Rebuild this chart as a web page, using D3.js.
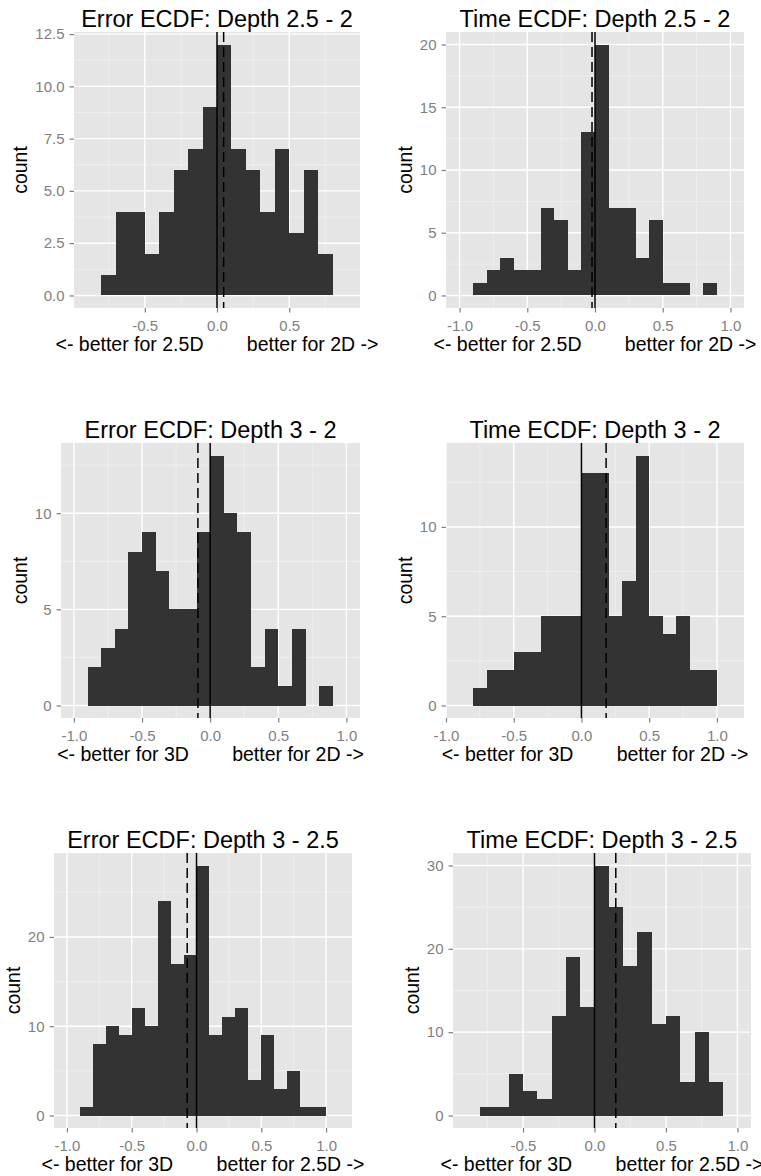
<!DOCTYPE html>
<html>
<head>
  <meta charset="utf-8">
  <title>ECDF differences by depth</title>
  <script src="https://cdn.jsdelivr.net/npm/d3@7"></script>
  <style>
    body { margin: 0; background: #fff; }
    text { font-family: "Liberation Sans", Arial, Helvetica, sans-serif; }
  </style>
</head>
<body>
<div id="chart"></div>
<script>
// histogram data, bin width 0.1
var binWidth = 0.1;
var panelTitles = ["Error ECDF: Depth 2.5 - 2", "Time ECDF: Depth 2.5 - 2",
                   "Error ECDF: Depth 3 - 2", "Time ECDF: Depth 3 - 2",
                   "Error ECDF: Depth 3 - 2.5", "Time ECDF: Depth 3 - 2.5"];
var xTitles = ["<- better for 2.5D        better for 2D ->", "<- better for 2.5D        better for 2D ->",
               "<- better for 3D        better for 2D ->", "<- better for 3D        better for 2D ->",
               "<- better for 3D        better for 2.5D ->", "<- better for 3D        better for 2.5D ->"];
var firstBin = [-0.8, -0.9, -0.9, -0.8, -0.9, -0.8];
var errCounts25v2  = [1, 4, 4, 2, 4, 6, 7, 9, 12, 7, 6, 4, 7, 3, 6, 2];
var timeCounts25v2 = [1, 2, 3, 2, 2, 7, 6, 2, 13, 20, 7, 7, 3, 6, 1, 1, 0, 1];
var errCounts3v2   = [2, 3, 4, 8, 9, 7, 5, 5, 9, 13, 10, 9, 2, 4, 1, 4, 0, 1];
var timeCounts3v2  = [1, 2, 2, 3, 3, 5, 5, 5, 13, 13, 5, 7, 14, 5, 4, 5, 2, 2];
var errCounts3v25  = [1, 8, 10, 9, 12, 10, 24, 17, 18, 28, 9, 11, 12, 4, 9, 3, 5, 1, 1];
var timeCounts3v25 = [1, 1, 5, 3, 2, 12, 19, 13, 30, 25, 18, 22, 11, 12, 4, 10, 4];
var allCounts = [errCounts25v2, timeCounts25v2, errCounts3v2, timeCounts3v2, errCounts3v25, timeCounts3v25];
var meanDiffs = [0.046, -0.022, -0.09, 0.182, -0.072, 0.149];   // dashed lines
var xTicks = [[-0.5, 0, 0.5], [-1, -0.5, 0, 0.5, 1], [-1, -0.5, 0, 0.5, 1],
              [-1, -0.5, 0, 0.5, 1], [-1, -0.5, 0, 0.5, 1], [-0.5, 0, 0.5, 1]];
var yTicks = [[0, 2.5, 5, 7.5, 10, 12.5], [0, 5, 10, 15, 20], [0, 5, 10],
              [0, 5, 10], [0, 10, 20], [0, 10, 20, 30]];
var yDecimals = [1, 0, 0, 0, 0, 0];

// panel boxes (pixels) and scale ranges
var panels = [
  {l: 74,  r: 360, t: 32,  b: 308,  xd: [-0.99, 0.99],  yd: [-0.6, 12.6]},
  {l: 446, r: 744, t: 32,  b: 308,  xd: [-1.1, 1.1],    yd: [-1, 21]},
  {l: 61,  r: 360, t: 443, b: 718,  xd: [-1.095, 1.1],  yd: [-0.65, 13.65]},
  {l: 446, r: 744, t: 443, b: 718,  xd: [-1.0, 1.2],    yd: [-0.7, 14.7]},
  {l: 54,  r: 352, t: 853, b: 1128, xd: [-1.1, 1.2],    yd: [-1.4, 29.4]},
  {l: 453, r: 751, t: 853, b: 1128, xd: [-0.99, 1.095], yd: [-1.5, 31.5]}
];

var svg = d3.select("#chart").append("svg")
    .attr("width", 761)
    .attr("height", 1176);

function minors(ticks, dom) {
  var step = ticks[1] - ticks[0];
  var m = ticks.map(function(v) { return v - step / 2; });
  m.push(ticks[ticks.length - 1] + step / 2);
  return m.filter(function(v) { return v > dom[0] && v < dom[1]; });
}

panels.forEach(function(p, k) {
  var x = d3.scaleLinear().domain(p.xd).range([p.l, p.r]);
  var y = d3.scaleLinear().domain(p.yd).range([p.b, p.t]);
  var g = svg.append("g");

  // panel background
  g.append("rect")
    .attr("x", p.l).attr("y", p.t)
    .attr("width", p.r - p.l).attr("height", p.b - p.t)
    .attr("fill", "#e5e5e5");

  // minor grid
  g.selectAll(".vminor").data(minors(xTicks[k], p.xd)).enter().append("line")
    .attr("x1", x).attr("x2", x).attr("y1", p.t).attr("y2", p.b)
    .attr("stroke", "#f2f2f2").attr("stroke-width", 0.7);
  g.selectAll(".hminor").data(minors(yTicks[k], p.yd)).enter().append("line")
    .attr("y1", y).attr("y2", y).attr("x1", p.l).attr("x2", p.r)
    .attr("stroke", "#f2f2f2").attr("stroke-width", 0.7);
  // major grid
  g.selectAll(".vmajor").data(xTicks[k]).enter().append("line")
    .attr("x1", x).attr("x2", x).attr("y1", p.t).attr("y2", p.b)
    .attr("stroke", "#fff").attr("stroke-width", 1.4);
  g.selectAll(".hmajor").data(yTicks[k]).enter().append("line")
    .attr("y1", y).attr("y2", y).attr("x1", p.l).attr("x2", p.r)
    .attr("stroke", "#fff").attr("stroke-width", 1.4);

  // bars
  var start = firstBin[k];
  g.selectAll(".bar").data(allCounts[k]).enter().append("rect")
    .attr("x", function(d, i) { return x(start + i * binWidth); })
    .attr("width", function(d, i) { return x(start + (i + 1) * binWidth) - x(start + i * binWidth); })
    .attr("y", function(d) { return y(d); })
    .attr("height", function(d) { return y(0) - y(d); })
    .attr("fill", "#333333")
    .attr("shape-rendering", "crispEdges");

  // reference lines
  g.append("line")
    .attr("x1", x(0)).attr("x2", x(0)).attr("y1", p.t).attr("y2", p.b)
    .attr("stroke", "#000").attr("stroke-width", 1.5);
  g.append("line")
    .attr("x1", x(meanDiffs[k])).attr("x2", x(meanDiffs[k])).attr("y1", p.t).attr("y2", p.b)
    .attr("stroke", "#000").attr("stroke-width", 1.5)
    .attr("stroke-dasharray", "10,5");

  // axes
  var xa = g.append("g")
    .attr("transform", "translate(0," + p.b + ")")
    .call(d3.axisBottom(x).tickValues(xTicks[k]).tickSize(4.5).tickPadding(7.5)
      .tickFormat(function(v) { return v.toFixed(1); }));
  var ya = g.append("g")
    .attr("transform", "translate(" + p.l + ",0)")
    .call(d3.axisLeft(y).tickValues(yTicks[k]).tickSize(4.5).tickPadding(5)
      .tickFormat(function(v) { return v.toFixed(yDecimals[k]); }));
  [xa, ya].forEach(function(a) {
    a.select(".domain").remove();
    a.selectAll(".tick line").attr("stroke", "#7f7f7f").attr("stroke-width", 1.2);
    a.selectAll(".tick text").attr("fill", "#7f7f7f")
      .style("font-size", "15px")
      .style("font-family", "'Liberation Sans', Arial, sans-serif");
  });

  // titles
  var cx = (p.l + p.r) / 2;
  g.append("text")
    .attr("x", cx).attr("y", p.t - 5)
    .attr("text-anchor", "middle")
    .style("font-size", "23.5px")
    .text(panelTitles[k]);
  g.append("text")
    .attr("x", cx).attr("y", p.b + 43)
    .attr("text-anchor", "middle")
    .attr("xml:space", "preserve")
    .style("white-space", "pre")
    .style("font-size", "19.5px")
    .text(xTitles[k]);
  var bb = ya.node().getBBox();
  var countX = p.l + bb.x - 8;
  g.append("text")
    .attr("transform", "translate(" + countX + "," + ((p.t + p.b) / 2) + ") rotate(-90)")
    .attr("text-anchor", "middle")
    .style("font-size", "19.5px")
    .text("count");
});
</script>
</body>
</html>
